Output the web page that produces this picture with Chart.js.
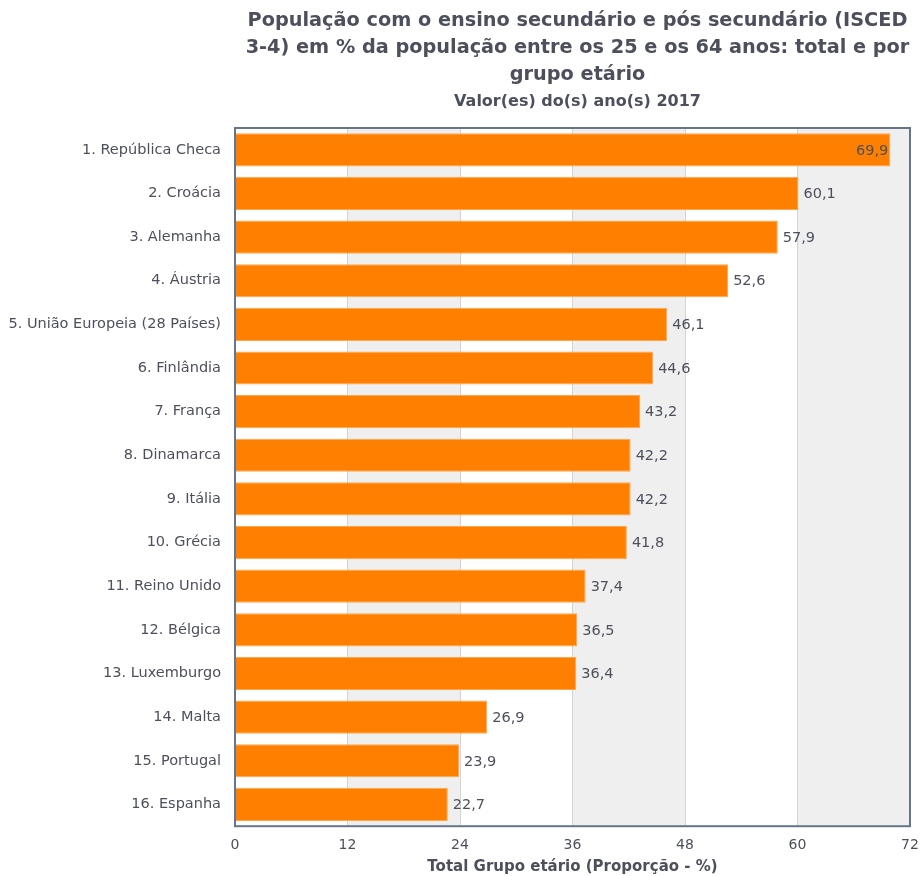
<!DOCTYPE html>
<html>
<head>
<meta charset="utf-8">
<script src="https://cdn.jsdelivr.net/npm/chart.js@4"></script>
<style>
  html, body { margin: 0; padding: 0; background: #fff; }
  #wrap { width: 922px; height: 876px; }
</style>
</head>
<body>
<div id="wrap"><canvas id="myChart"></canvas></div>
<script>
var countries = [
    "1. República Checa",
    "2. Croácia",
    "3. Alemanha",
    "4. Áustria",
    "5. União Europeia (28 Países)",
    "6. Finlândia",
    "7. França",
    "8. Dinamarca",
    "9. Itália",
    "10. Grécia",
    "11. Reino Unido",
    "12. Bélgica",
    "13. Luxemburgo",
    "14. Malta",
    "15. Portugal",
    "16. Espanha"
];
var values = [69.9, 60.1, 57.9, 52.6, 46.1, 44.6, 43.2, 42.2, 42.2, 41.8, 37.4, 36.5, 36.4, 26.9, 23.9, 22.7];
var xTicks = [0, 12, 24, 36, 48, 60, 72];

var titleLines = [
    "População com o ensino secundário e pós secundário (ISCED",
    "3-4) em % da população entre os 25 e os 64 anos: total e por",
    "grupo etário"
];
var subtitleText = "Valor(es) do(s) ano(s) 2017";
var axisTitle = "Total Grupo etário (Proporção - %)";

var textColor = "#4d505c";
var fontFamily = "'DejaVu Sans', Verdana, sans-serif";

function fmt(v) {
    return v.toFixed(1).replace(".", ",");
}

// gray bands between every other pair of gridlines
var bands = {
    id: 'bands',
    beforeDraw: function (chart) {
        var ctx = chart.ctx, area = chart.chartArea, x = chart.scales.x;
        ctx.save();
        ctx.fillStyle = "#efefef";
        for (var i = 1; i < xTicks.length - 1; i += 2) {
            var a = x.getPixelForValue(xTicks[i]);
            var b = x.getPixelForValue(xTicks[i + 1]);
            ctx.fillRect(a, area.top, b - a, area.bottom - area.top);
        }
        ctx.restore();
    }
};

// title centred over the plot area, value labels, plot frame
var labels = {
    id: 'labels',
    afterDraw: function (chart) {
        var ctx = chart.ctx, area = chart.chartArea;
        var cx = (area.left + area.right) / 2 + 5;
        ctx.save();
        ctx.fillStyle = textColor;
        ctx.textAlign = "center";
        ctx.textBaseline = "middle";
        ctx.font = "bold 19.3px " + fontFamily;
        titleLines.forEach(function (t, i) {
            ctx.fillText(t, cx, 21 + i * 27);
        });
        ctx.font = "bold 16px " + fontFamily;
        ctx.fillText(subtitleText, cx, 102);

        var meta = chart.getDatasetMeta(0);
        ctx.font = "14.5px " + fontFamily;
        meta.data.forEach(function (bar, i) {
            var txt = fmt(values[i]);
            var w = ctx.measureText(txt).width;
            if (bar.x + 6 + w > area.right) {
                ctx.textAlign = "right";
                ctx.fillText(txt, bar.x - 2, bar.y + 1);
            } else {
                ctx.textAlign = "left";
                ctx.fillText(txt, bar.x + 5, bar.y + 1);
            }
        });
        ctx.strokeStyle = "#66768a";
        ctx.lineWidth = 2;
        ctx.strokeRect(area.left, area.top, area.right - area.left, area.bottom - area.top);
        ctx.restore();
    }
};

var ctx = document.getElementById('myChart').getContext('2d');
new Chart(ctx, {
    type: 'bar',
    data: {
        labels: countries,
        datasets: [{
            data: values,
            backgroundColor: "#ff8000",
            borderColor: "#ffa64d",
            borderWidth: 1,
            barPercentage: 0.76,
            categoryPercentage: 1
        }]
    },
    plugins: [bands, labels],
    options: {
        indexAxis: 'y',
        responsive: true,
        maintainAspectRatio: false,
        animation: false,
        layout: { padding: { left: 0, right: 12, top: 128, bottom: 0 } },
        plugins: {
            legend: { display: false },
            tooltip: { enabled: false }
        },
        scales: {
            x: {
                min: 0,
                max: 72,
                afterBuildTicks: function (s) {
                    s.ticks = xTicks.map(function (v) { return { value: v }; });
                },
                afterFit: function (s) { s.paddingRight = 0; s.paddingLeft = 0; },
                grid: { color: "#d4d4d4", drawTicks: false },
                border: { display: false },
                ticks: {
                    color: textColor,
                    font: { family: fontFamily, size: 14 },
                    padding: 11
                },
                title: {
                    display: true,
                    text: axisTitle,
                    color: textColor,
                    font: { family: fontFamily, size: 15, weight: 'bold' },
                    padding: { top: -7, bottom: 0 }
                }
            },
            y: {
                afterFit: function (s) { s.width = 235; },
                grid: { display: false },
                border: { display: false },
                ticks: {
                    color: textColor,
                    font: { family: fontFamily, size: 14.5 },
                    padding: 6
                }
            }
        }
    }
});
</script>
</body>
</html>
